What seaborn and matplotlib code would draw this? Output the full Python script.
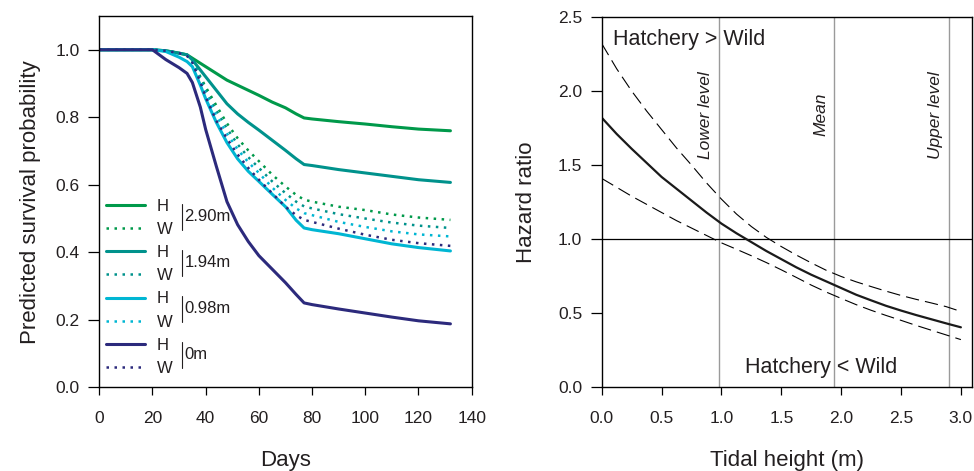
import numpy as np
import pandas as pd
import matplotlib
matplotlib.use("Agg")
import matplotlib.pyplot as plt
import seaborn as sns
from matplotlib.lines import Line2D

# ---------------- data ----------------
days = [0, 20, 25, 30, 33, 35, 38, 40, 44, 48, 52, 56, 60, 65, 70, 74, 77, 80, 90, 100, 110, 120, 132]

h_290 = [1.0, 1.0, 0.997, 0.99, 0.985, 0.975, 0.96, 0.95, 0.93, 0.91, 0.895, 0.88, 0.865, 0.845, 0.828, 0.81, 0.798, 0.795, 0.787, 0.780, 0.772, 0.765, 0.760]
w_290 = [1.0, 1.0, 0.997, 0.99, 0.985, 0.968, 0.92, 0.89, 0.835, 0.782, 0.738, 0.702, 0.67, 0.63, 0.595, 0.57, 0.556, 0.55, 0.535, 0.525, 0.512, 0.503, 0.496]
h_194 = [1.0, 1.0, 0.997, 0.99, 0.985, 0.97, 0.94, 0.92, 0.88, 0.84, 0.81, 0.785, 0.762, 0.732, 0.702, 0.677, 0.660, 0.657, 0.645, 0.635, 0.625, 0.615, 0.607]
w_194 = [1.0, 1.0, 0.997, 0.99, 0.984, 0.966, 0.915, 0.88, 0.82, 0.767, 0.72, 0.682, 0.65, 0.61, 0.575, 0.55, 0.536, 0.53, 0.513, 0.50, 0.488, 0.479, 0.472]
h_098 = [1.0, 1.0, 0.995, 0.978, 0.965, 0.95, 0.895, 0.855, 0.785, 0.725, 0.677, 0.64, 0.61, 0.572, 0.535, 0.495, 0.472, 0.467, 0.455, 0.440, 0.425, 0.414, 0.404]
w_098 = [1.0, 1.0, 0.997, 0.99, 0.983, 0.964, 0.91, 0.87, 0.805, 0.752, 0.705, 0.667, 0.635, 0.592, 0.555, 0.53, 0.516, 0.51, 0.49, 0.475, 0.462, 0.453, 0.447]
h_000 = [1.0, 1.0, 0.971, 0.947, 0.93, 0.903, 0.83, 0.764, 0.655, 0.55, 0.482, 0.432, 0.39, 0.35, 0.31, 0.275, 0.25, 0.245, 0.232, 0.220, 0.208, 0.197, 0.188]
w_000 = [1.0, 1.0, 0.997, 0.99, 0.982, 0.962, 0.905, 0.86, 0.79, 0.737, 0.69, 0.65, 0.615, 0.575, 0.535, 0.51, 0.496, 0.49, 0.47, 0.452, 0.437, 0.427, 0.419]

group_labels = ["2.90m", "1.94m", "0.98m", "0m"]
group_colors = ["#00994a", "#00928c", "#00b6d3", "#2c2a7c"]
h_series = [h_290, h_194, h_098, h_000]
w_series = [w_290, w_194, w_098, w_000]

tidal = [0.0, 0.125, 0.25, 0.375, 0.5, 0.625, 0.75, 0.875, 1.0, 1.125, 1.25, 1.375,
         1.5, 1.625, 1.75, 1.875, 2.0, 2.125, 2.25, 2.375, 2.5, 2.625, 2.75, 2.875, 3.0]
hr_est = [1.82, 1.71, 1.61, 1.515, 1.42, 1.34, 1.26, 1.18, 1.105, 1.04, 0.98, 0.92,
          0.865, 0.81, 0.76, 0.715, 0.67, 0.625, 0.587, 0.55, 0.518, 0.488, 0.46, 0.432, 0.405]
hr_upper = [2.32, 2.15, 2.00, 1.865, 1.74, 1.615, 1.50, 1.38, 1.27, 1.17, 1.085, 1.012,
            0.95, 0.893, 0.84, 0.79, 0.748, 0.712, 0.68, 0.649, 0.62, 0.594, 0.57, 0.545, 0.512]
hr_lower = [1.41, 1.35, 1.29, 1.235, 1.18, 1.125, 1.075, 1.025, 0.975, 0.932, 0.888, 0.842,
            0.793, 0.742, 0.69, 0.643, 0.60, 0.558, 0.52, 0.485, 0.452, 0.418, 0.386, 0.354, 0.322]

levels = [0.98, 1.94, 2.90]
level_names = ["Lower level", "Mean", "Upper level"]

left_xticks = [0, 20, 40, 60, 80, 100, 120, 140]
left_yticks = [0.0, 0.2, 0.4, 0.6, 0.8, 1.0]
right_xticks = [0.0, 0.5, 1.0, 1.5, 2.0, 2.5, 3.0]
right_yticks = [0.0, 0.5, 1.0, 1.5, 2.0, 2.5]

# ---------------- style ----------------
sns.set_style("ticks")
plt.rcParams["font.family"] = ["Liberation Sans", "DejaVu Sans"]
TXT = "#231f20"
plt.rcParams.update({
    "axes.edgecolor": "black",
    "axes.linewidth": 1.0,
    "xtick.color": "black",
    "ytick.color": "black",
    "xtick.labelcolor": TXT,
    "ytick.labelcolor": TXT,
    "xtick.direction": "out",
    "ytick.direction": "out",
})

fig = plt.figure(figsize=(9.74, 4.71), dpi=100)
axL = fig.add_axes([0.1019, 0.1777, 0.3824, 0.7883])
axR = fig.add_axes([0.6178, 0.1777, 0.3798, 0.7863])

# ---------------- left panel ----------------
handles = []
labels = []
for lab, col, hv, wv in zip(group_labels, group_colors, h_series, w_series):
    df = pd.DataFrame({"day": days, "H": hv, "W": wv})
    sns.lineplot(data=df, x="day", y="W", ax=axL, color=col, lw=1.8,
                 linestyle=(0, (1, 2.2)), estimator=None, sort=False)
    sns.lineplot(data=df, x="day", y="H", ax=axL, color=col, lw=2.2,
                 estimator=None, sort=False)
    handles += [Line2D([], [], color=col, lw=2.2),
                Line2D([], [], color=col, lw=1.8, linestyle=(0, (1, 2.2)))]
    labels += ["H", "W"]

axL.set_xlim(0, 140)
axL.set_ylim(0, 1.1)
axL.set_xticks(left_xticks)
axL.set_yticks(left_yticks)
axL.set_yticklabels([f"{v:.1f}" for v in left_yticks])
axL.set_xlabel("Days", fontsize=16, color=TXT)
axL.set_ylabel("Predicted survival probability", fontsize=16, color=TXT)

leg = axL.legend(handles, labels, loc="upper left", bbox_to_anchor=(0.018, 0.508),
                 frameon=False, fontsize=12, handlelength=2.33, handletextpad=0.7,
                 labelspacing=0.49, borderpad=0, borderaxespad=0)
for t in leg.get_texts():
    t.set_color(TXT)

row_step = 23.0 / 371.3
y_h0 = (387.3 - 205) / 371.3
for i, glab in enumerate(group_labels):
    yh = y_h0 - 2 * i * row_step
    yw = yh - row_step
    axL.plot([0.221, 0.221], [yh + 0.002, yw - 0.006], transform=axL.transAxes,
             color=TXT, lw=0.8, clip_on=False)
    axL.text(0.229, (yh + yw) / 2, glab, transform=axL.transAxes, fontsize=12,
             color=TXT, va="center", ha="left")

# ---------------- right panel ----------------
dfr = pd.DataFrame({"x": tidal, "est": hr_est, "up": hr_upper, "lo": hr_lower})
for lv in levels:
    axR.axvline(lv, color="#9a9a9a", lw=1.0, zorder=1)
axR.axhline(1.0, color="black", lw=0.9, zorder=1)
sns.lineplot(data=dfr, x="x", y="up", ax=axR, color="black", lw=0.8,
             linestyle=(0, (12, 5.5)), estimator=None)
sns.lineplot(data=dfr, x="x", y="lo", ax=axR, color="black", lw=0.8,
             linestyle=(0, (12, 5.5)), estimator=None)
sns.lineplot(data=dfr, x="x", y="est", ax=axR, color="#1a1a1a", lw=1.6,
             estimator=None)

for lv, name in zip(levels, level_names):
    axR.text(lv - 0.11, 1.84, name, rotation=90, ha="center", va="center",
             fontsize=12.5, style="italic", color=TXT)
axR.text(0.09, 2.345, "Hatchery > Wild", fontsize=15.5, color=TXT, ha="left", va="center")
axR.text(1.196, 0.137, "Hatchery < Wild", fontsize=15.5, color=TXT, ha="left", va="center")

axR.set_xlim(0, 3.09)
axR.set_ylim(0, 2.5)
axR.set_xticks(right_xticks)
axR.set_yticks(right_yticks)
axR.set_xticklabels([f"{v:.1f}" for v in right_xticks])
axR.set_yticklabels([f"{v:.1f}" for v in right_yticks])
axR.set_xlabel("Tidal height (m)", fontsize=16, color=TXT)
axR.set_ylabel("Hazard ratio", fontsize=16, color=TXT)

for ax in (axL, axR):
    for s in ax.spines.values():
        s.set_visible(True)
        s.set_color("black")
        s.set_linewidth(1.0)
    ax.tick_params(axis="x", length=5.5, width=0.9, pad=11.5, labelsize=12.5)
    ax.tick_params(axis="y", length=8, width=0.9, pad=6, labelsize=12.5)
    ax.xaxis.set_label_coords(0.5, -0.169)

axL.yaxis.set_label_coords(-0.156, 0.5)
axR.yaxis.set_label_coords(-0.176, 0.5)

fig.savefig("out.png", dpi=100)
